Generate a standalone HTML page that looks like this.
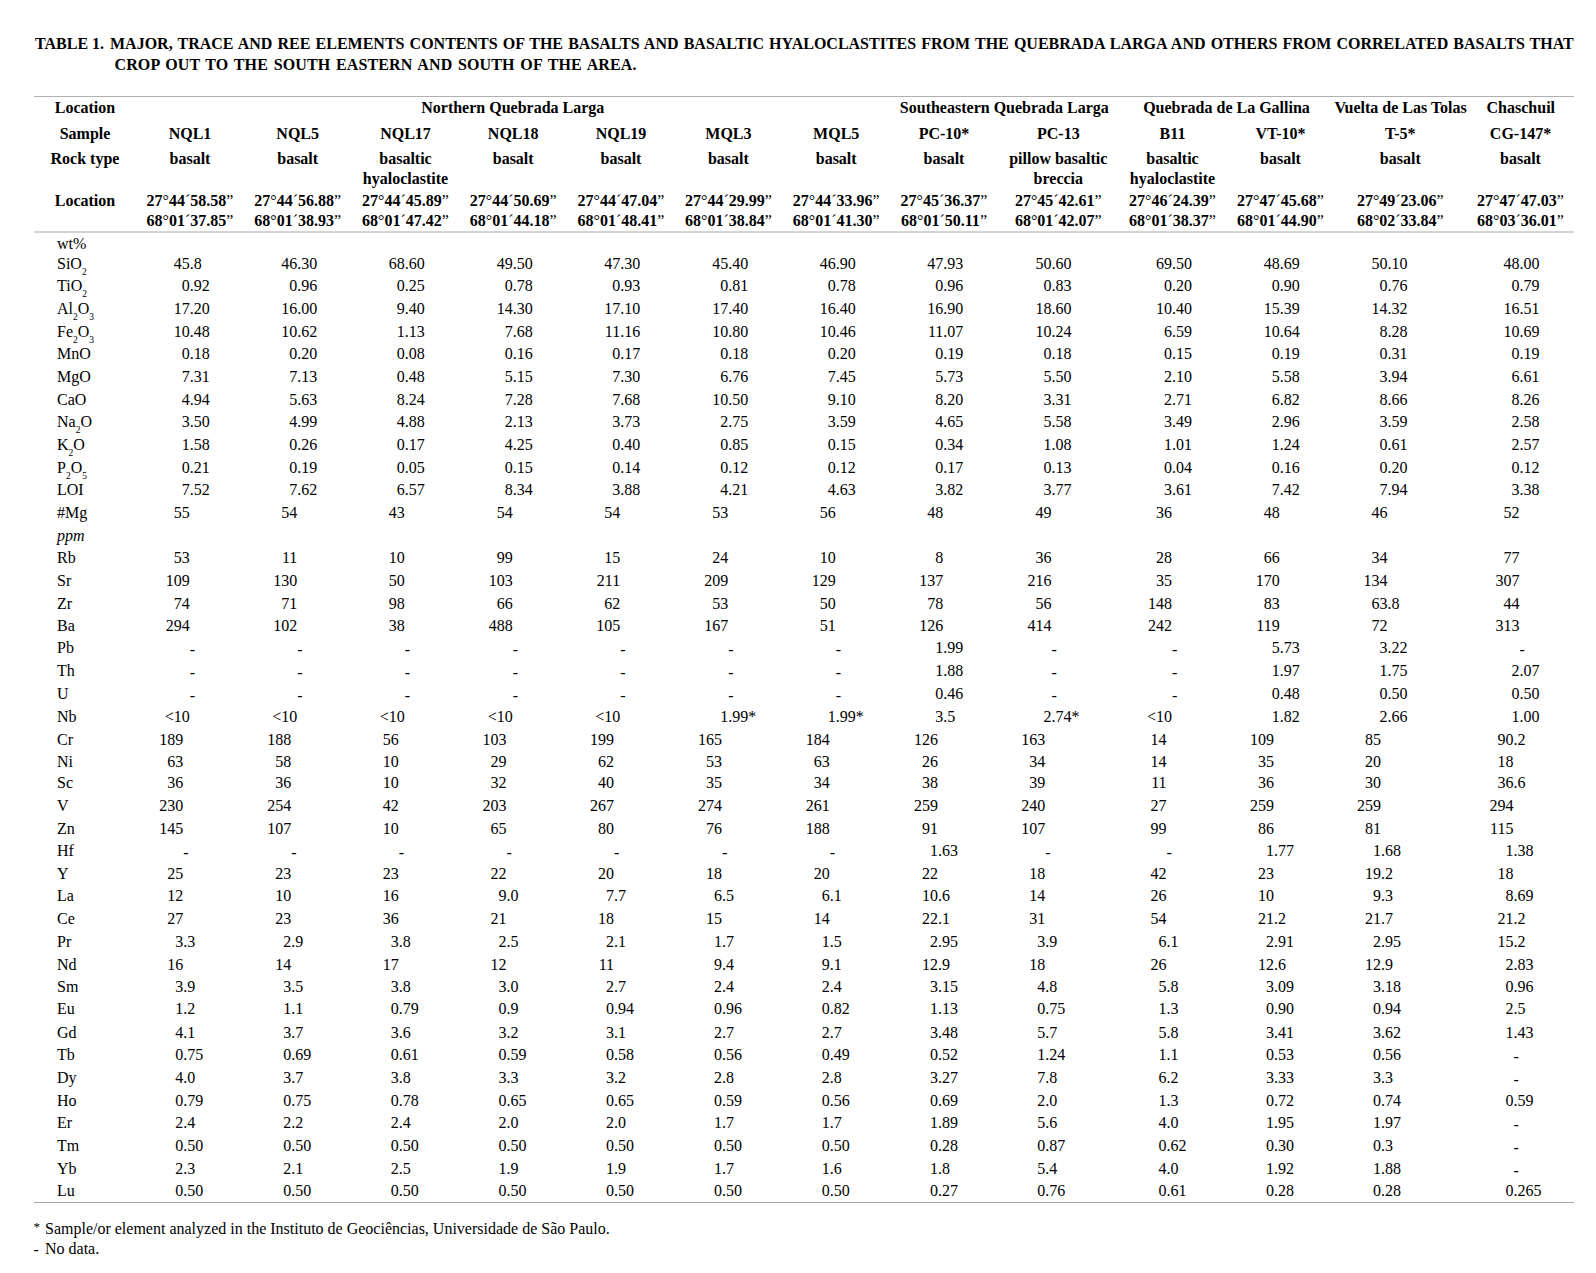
<!DOCTYPE html>
<html><head><meta charset="utf-8"><style>
html,body{margin:0;padding:0;background:#fff;}
body{width:1596px;height:1273px;position:relative;overflow:hidden;font-family:"Liberation Serif",serif;font-size:16px;color:#000;}
.t{position:absolute;white-space:pre;line-height:20px;}
.c{width:300px;text-align:center;}
.b{font-weight:bold;}
.it{font-style:italic;}
.n{font-weight:normal;}
.i{position:absolute;right:100%;top:0;}
sub{font-size:9.5px;vertical-align:baseline;position:relative;top:6px;line-height:0;}
.rule{position:absolute;left:34px;width:1540px;}
</style></head><body>
<div class="rule" style="top:96px;height:1px;background:#b0b0b0"></div>
<div class="rule" style="top:231px;height:2px;background:#d4d4d4"></div>
<div class="rule" style="top:1202px;height:1px;background:#a8a8a8"></div>
<div class="t b" style="left:35px;top:33.8px;">TABLE 1.</div>
<div class="t b" style="left:110px;top:33.8px;word-spacing:1.13px">MAJOR, TRACE AND REE ELEMENTS CONTENTS OF THE BASALTS AND BASALTIC HYALOCLASTITES FROM THE QUEBRADA LARGA AND OTHERS FROM CORRELATED BASALTS THAT</div>
<div class="t b" style="left:114.5px;top:54.5px;word-spacing:1.6px;letter-spacing:0.12px">CROP OUT TO THE SOUTH EASTERN AND SOUTH OF THE AREA.</div>
<div class="t c b" style="left:-65.0px;top:98.2px">Location</div>
<div class="t c b" style="left:-65.0px;top:123.9px">Sample</div>
<div class="t c b" style="left:-65.0px;top:148.9px">Rock type</div>
<div class="t c b" style="left:-65.0px;top:190.8px">Location</div>
<div class="t c b" style="left:362.8px;top:98.2px">Northern Quebrada Larga</div>
<div class="t c b" style="left:854.3px;top:98.2px">Southeastern Quebrada Larga</div>
<div class="t c b" style="left:1076.5px;top:98.2px">Quebrada de La Gallina</div>
<div class="t c b" style="left:1250.6px;top:98.2px">Vuelta de Las Tolas</div>
<div class="t c b" style="left:1370.8px;top:98.2px">Chaschuil</div>
<div class="t c b" style="left:40.0px;top:123.9px">NQL1</div>
<div class="t c b" style="left:40.0px;top:148.9px">basalt</div>
<div class="t c b" style="left:40.0px;top:190.8px">27<span class="n">°</span>44<span class="n">´</span>58.58<span class="n">”</span></div>
<div class="t c b" style="left:40.0px;top:210.5px">68<span class="n">°</span>01<span class="n">´</span>37.85<span class="n">”</span></div>
<div class="t c b" style="left:147.7px;top:123.9px">NQL5</div>
<div class="t c b" style="left:147.7px;top:148.9px">basalt</div>
<div class="t c b" style="left:147.7px;top:190.8px">27<span class="n">°</span>44<span class="n">´</span>56.88<span class="n">”</span></div>
<div class="t c b" style="left:147.7px;top:210.5px">68<span class="n">°</span>01<span class="n">´</span>38.93<span class="n">”</span></div>
<div class="t c b" style="left:255.5px;top:123.9px">NQL17</div>
<div class="t c b" style="left:255.5px;top:148.9px">basaltic</div>
<div class="t c b" style="left:255.5px;top:169.0px">hyaloclastite</div>
<div class="t c b" style="left:255.5px;top:190.8px">27<span class="n">°</span>44<span class="n">´</span>45.89<span class="n">”</span></div>
<div class="t c b" style="left:255.5px;top:210.5px">68<span class="n">°</span>01<span class="n">´</span>47.42<span class="n">”</span></div>
<div class="t c b" style="left:363.2px;top:123.9px">NQL18</div>
<div class="t c b" style="left:363.2px;top:148.9px">basalt</div>
<div class="t c b" style="left:363.2px;top:190.8px">27<span class="n">°</span>44<span class="n">´</span>50.69<span class="n">”</span></div>
<div class="t c b" style="left:363.2px;top:210.5px">68<span class="n">°</span>01<span class="n">´</span>44.18<span class="n">”</span></div>
<div class="t c b" style="left:471.0px;top:123.9px">NQL19</div>
<div class="t c b" style="left:471.0px;top:148.9px">basalt</div>
<div class="t c b" style="left:471.0px;top:190.8px">27<span class="n">°</span>44<span class="n">´</span>47.04<span class="n">”</span></div>
<div class="t c b" style="left:471.0px;top:210.5px">68<span class="n">°</span>01<span class="n">´</span>48.41<span class="n">”</span></div>
<div class="t c b" style="left:578.4px;top:123.9px">MQL3</div>
<div class="t c b" style="left:578.4px;top:148.9px">basalt</div>
<div class="t c b" style="left:578.4px;top:190.8px">27<span class="n">°</span>44<span class="n">´</span>29.99<span class="n">”</span></div>
<div class="t c b" style="left:578.4px;top:210.5px">68<span class="n">°</span>01<span class="n">´</span>38.84<span class="n">”</span></div>
<div class="t c b" style="left:686.2px;top:123.9px">MQL5</div>
<div class="t c b" style="left:686.2px;top:148.9px">basalt</div>
<div class="t c b" style="left:686.2px;top:190.8px">27<span class="n">°</span>44<span class="n">´</span>33.96<span class="n">”</span></div>
<div class="t c b" style="left:686.2px;top:210.5px">68<span class="n">°</span>01<span class="n">´</span>41.30<span class="n">”</span></div>
<div class="t c b" style="left:794.0px;top:123.9px">PC-10*</div>
<div class="t c b" style="left:794.0px;top:148.9px">basalt</div>
<div class="t c b" style="left:794.0px;top:190.8px">27<span class="n">°</span>45<span class="n">´</span>36.37<span class="n">”</span></div>
<div class="t c b" style="left:794.0px;top:210.5px">68<span class="n">°</span>01<span class="n">´</span>50.11<span class="n">”</span></div>
<div class="t c b" style="left:908.3px;top:123.9px">PC-13</div>
<div class="t c b" style="left:908.3px;top:148.9px">pillow basaltic</div>
<div class="t c b" style="left:908.3px;top:169.0px">breccia</div>
<div class="t c b" style="left:908.3px;top:190.8px">27<span class="n">°</span>45<span class="n">´</span>42.61<span class="n">”</span></div>
<div class="t c b" style="left:908.3px;top:210.5px">68<span class="n">°</span>01<span class="n">´</span>42.07<span class="n">”</span></div>
<div class="t c b" style="left:1022.5px;top:123.9px">B11</div>
<div class="t c b" style="left:1022.5px;top:148.9px">basaltic</div>
<div class="t c b" style="left:1022.5px;top:169.0px">hyaloclastite</div>
<div class="t c b" style="left:1022.5px;top:190.8px">27<span class="n">°</span>46<span class="n">´</span>24.39<span class="n">”</span></div>
<div class="t c b" style="left:1022.5px;top:210.5px">68<span class="n">°</span>01<span class="n">´</span>38.37<span class="n">”</span></div>
<div class="t c b" style="left:1130.5px;top:123.9px">VT-10*</div>
<div class="t c b" style="left:1130.5px;top:148.9px">basalt</div>
<div class="t c b" style="left:1130.5px;top:190.8px">27<span class="n">°</span>47<span class="n">´</span>45.68<span class="n">”</span></div>
<div class="t c b" style="left:1130.5px;top:210.5px">68<span class="n">°</span>01<span class="n">´</span>44.90<span class="n">”</span></div>
<div class="t c b" style="left:1250.3px;top:123.9px">T-5*</div>
<div class="t c b" style="left:1250.3px;top:148.9px">basalt</div>
<div class="t c b" style="left:1250.3px;top:190.8px">27<span class="n">°</span>49<span class="n">´</span>23.06<span class="n">”</span></div>
<div class="t c b" style="left:1250.3px;top:210.5px">68<span class="n">°</span>02<span class="n">´</span>33.84<span class="n">”</span></div>
<div class="t c b" style="left:1370.5px;top:123.9px">CG-147*</div>
<div class="t c b" style="left:1370.5px;top:148.9px">basalt</div>
<div class="t c b" style="left:1370.5px;top:190.8px">27<span class="n">°</span>47<span class="n">´</span>47.03<span class="n">”</span></div>
<div class="t c b" style="left:1370.5px;top:210.5px">68<span class="n">°</span>03<span class="n">´</span>36.01<span class="n">”</span></div>
<div class="t " style="left:57px;top:233.8px;">wt%</div>
<div class="t " style="left:57px;top:254.0px;">SiO<sub>2</sub></div>
<div class="t" style="left:189.7px;top:254.0px"><span class="i">45</span>.8</div>
<div class="t" style="left:297.3px;top:254.0px"><span class="i">46</span>.30</div>
<div class="t" style="left:404.8px;top:254.0px"><span class="i">68</span>.60</div>
<div class="t" style="left:512.7px;top:254.0px"><span class="i">49</span>.50</div>
<div class="t" style="left:620.2px;top:254.0px"><span class="i">47</span>.30</div>
<div class="t" style="left:728.2px;top:254.0px"><span class="i">45</span>.40</div>
<div class="t" style="left:835.8px;top:254.0px"><span class="i">46</span>.90</div>
<div class="t" style="left:943.3px;top:254.0px"><span class="i">47</span>.93</div>
<div class="t" style="left:1051.5px;top:254.0px"><span class="i">50</span>.60</div>
<div class="t" style="left:1172.0px;top:254.0px"><span class="i">69</span>.50</div>
<div class="t" style="left:1279.7px;top:254.0px"><span class="i">48</span>.69</div>
<div class="t" style="left:1387.4px;top:254.0px"><span class="i">50</span>.10</div>
<div class="t" style="left:1519.4px;top:254.0px"><span class="i">48</span>.00</div>
<div class="t " style="left:57px;top:276.0px;">TiO<sub>2</sub></div>
<div class="t" style="left:189.7px;top:276.0px"><span class="i">0</span>.92</div>
<div class="t" style="left:297.3px;top:276.0px"><span class="i">0</span>.96</div>
<div class="t" style="left:404.8px;top:276.0px"><span class="i">0</span>.25</div>
<div class="t" style="left:512.7px;top:276.0px"><span class="i">0</span>.78</div>
<div class="t" style="left:620.2px;top:276.0px"><span class="i">0</span>.93</div>
<div class="t" style="left:728.2px;top:276.0px"><span class="i">0</span>.81</div>
<div class="t" style="left:835.8px;top:276.0px"><span class="i">0</span>.78</div>
<div class="t" style="left:943.3px;top:276.0px"><span class="i">0</span>.96</div>
<div class="t" style="left:1051.5px;top:276.0px"><span class="i">0</span>.83</div>
<div class="t" style="left:1172.0px;top:276.0px"><span class="i">0</span>.20</div>
<div class="t" style="left:1279.7px;top:276.0px"><span class="i">0</span>.90</div>
<div class="t" style="left:1387.4px;top:276.0px"><span class="i">0</span>.76</div>
<div class="t" style="left:1519.4px;top:276.0px"><span class="i">0</span>.79</div>
<div class="t " style="left:57px;top:299.0px;">Al<sub>2</sub>O<sub>3</sub></div>
<div class="t" style="left:189.7px;top:299.0px"><span class="i">17</span>.20</div>
<div class="t" style="left:297.3px;top:299.0px"><span class="i">16</span>.00</div>
<div class="t" style="left:404.8px;top:299.0px"><span class="i">9</span>.40</div>
<div class="t" style="left:512.7px;top:299.0px"><span class="i">14</span>.30</div>
<div class="t" style="left:620.2px;top:299.0px"><span class="i">17</span>.10</div>
<div class="t" style="left:728.2px;top:299.0px"><span class="i">17</span>.40</div>
<div class="t" style="left:835.8px;top:299.0px"><span class="i">16</span>.40</div>
<div class="t" style="left:943.3px;top:299.0px"><span class="i">16</span>.90</div>
<div class="t" style="left:1051.5px;top:299.0px"><span class="i">18</span>.60</div>
<div class="t" style="left:1172.0px;top:299.0px"><span class="i">10</span>.40</div>
<div class="t" style="left:1279.7px;top:299.0px"><span class="i">15</span>.39</div>
<div class="t" style="left:1387.4px;top:299.0px"><span class="i">14</span>.32</div>
<div class="t" style="left:1519.4px;top:299.0px"><span class="i">16</span>.51</div>
<div class="t " style="left:57px;top:322.0px;">Fe<sub>2</sub>O<sub>3</sub></div>
<div class="t" style="left:189.7px;top:322.0px"><span class="i">10</span>.48</div>
<div class="t" style="left:297.3px;top:322.0px"><span class="i">10</span>.62</div>
<div class="t" style="left:404.8px;top:322.0px"><span class="i">1</span>.13</div>
<div class="t" style="left:512.7px;top:322.0px"><span class="i">7</span>.68</div>
<div class="t" style="left:620.2px;top:322.0px"><span class="i">11</span>.16</div>
<div class="t" style="left:728.2px;top:322.0px"><span class="i">10</span>.80</div>
<div class="t" style="left:835.8px;top:322.0px"><span class="i">10</span>.46</div>
<div class="t" style="left:943.3px;top:322.0px"><span class="i">11</span>.07</div>
<div class="t" style="left:1051.5px;top:322.0px"><span class="i">10</span>.24</div>
<div class="t" style="left:1172.0px;top:322.0px"><span class="i">6</span>.59</div>
<div class="t" style="left:1279.7px;top:322.0px"><span class="i">10</span>.64</div>
<div class="t" style="left:1387.4px;top:322.0px"><span class="i">8</span>.28</div>
<div class="t" style="left:1519.4px;top:322.0px"><span class="i">10</span>.69</div>
<div class="t " style="left:57px;top:344.0px;">MnO</div>
<div class="t" style="left:189.7px;top:344.0px"><span class="i">0</span>.18</div>
<div class="t" style="left:297.3px;top:344.0px"><span class="i">0</span>.20</div>
<div class="t" style="left:404.8px;top:344.0px"><span class="i">0</span>.08</div>
<div class="t" style="left:512.7px;top:344.0px"><span class="i">0</span>.16</div>
<div class="t" style="left:620.2px;top:344.0px"><span class="i">0</span>.17</div>
<div class="t" style="left:728.2px;top:344.0px"><span class="i">0</span>.18</div>
<div class="t" style="left:835.8px;top:344.0px"><span class="i">0</span>.20</div>
<div class="t" style="left:943.3px;top:344.0px"><span class="i">0</span>.19</div>
<div class="t" style="left:1051.5px;top:344.0px"><span class="i">0</span>.18</div>
<div class="t" style="left:1172.0px;top:344.0px"><span class="i">0</span>.15</div>
<div class="t" style="left:1279.7px;top:344.0px"><span class="i">0</span>.19</div>
<div class="t" style="left:1387.4px;top:344.0px"><span class="i">0</span>.31</div>
<div class="t" style="left:1519.4px;top:344.0px"><span class="i">0</span>.19</div>
<div class="t " style="left:57px;top:367.0px;">MgO</div>
<div class="t" style="left:189.7px;top:367.0px"><span class="i">7</span>.31</div>
<div class="t" style="left:297.3px;top:367.0px"><span class="i">7</span>.13</div>
<div class="t" style="left:404.8px;top:367.0px"><span class="i">0</span>.48</div>
<div class="t" style="left:512.7px;top:367.0px"><span class="i">5</span>.15</div>
<div class="t" style="left:620.2px;top:367.0px"><span class="i">7</span>.30</div>
<div class="t" style="left:728.2px;top:367.0px"><span class="i">6</span>.76</div>
<div class="t" style="left:835.8px;top:367.0px"><span class="i">7</span>.45</div>
<div class="t" style="left:943.3px;top:367.0px"><span class="i">5</span>.73</div>
<div class="t" style="left:1051.5px;top:367.0px"><span class="i">5</span>.50</div>
<div class="t" style="left:1172.0px;top:367.0px"><span class="i">2</span>.10</div>
<div class="t" style="left:1279.7px;top:367.0px"><span class="i">5</span>.58</div>
<div class="t" style="left:1387.4px;top:367.0px"><span class="i">3</span>.94</div>
<div class="t" style="left:1519.4px;top:367.0px"><span class="i">6</span>.61</div>
<div class="t " style="left:57px;top:390.0px;">CaO</div>
<div class="t" style="left:189.7px;top:390.0px"><span class="i">4</span>.94</div>
<div class="t" style="left:297.3px;top:390.0px"><span class="i">5</span>.63</div>
<div class="t" style="left:404.8px;top:390.0px"><span class="i">8</span>.24</div>
<div class="t" style="left:512.7px;top:390.0px"><span class="i">7</span>.28</div>
<div class="t" style="left:620.2px;top:390.0px"><span class="i">7</span>.68</div>
<div class="t" style="left:728.2px;top:390.0px"><span class="i">10</span>.50</div>
<div class="t" style="left:835.8px;top:390.0px"><span class="i">9</span>.10</div>
<div class="t" style="left:943.3px;top:390.0px"><span class="i">8</span>.20</div>
<div class="t" style="left:1051.5px;top:390.0px"><span class="i">3</span>.31</div>
<div class="t" style="left:1172.0px;top:390.0px"><span class="i">2</span>.71</div>
<div class="t" style="left:1279.7px;top:390.0px"><span class="i">6</span>.82</div>
<div class="t" style="left:1387.4px;top:390.0px"><span class="i">8</span>.66</div>
<div class="t" style="left:1519.4px;top:390.0px"><span class="i">8</span>.26</div>
<div class="t " style="left:57px;top:412.0px;">Na<sub>2</sub>O</div>
<div class="t" style="left:189.7px;top:412.0px"><span class="i">3</span>.50</div>
<div class="t" style="left:297.3px;top:412.0px"><span class="i">4</span>.99</div>
<div class="t" style="left:404.8px;top:412.0px"><span class="i">4</span>.88</div>
<div class="t" style="left:512.7px;top:412.0px"><span class="i">2</span>.13</div>
<div class="t" style="left:620.2px;top:412.0px"><span class="i">3</span>.73</div>
<div class="t" style="left:728.2px;top:412.0px"><span class="i">2</span>.75</div>
<div class="t" style="left:835.8px;top:412.0px"><span class="i">3</span>.59</div>
<div class="t" style="left:943.3px;top:412.0px"><span class="i">4</span>.65</div>
<div class="t" style="left:1051.5px;top:412.0px"><span class="i">5</span>.58</div>
<div class="t" style="left:1172.0px;top:412.0px"><span class="i">3</span>.49</div>
<div class="t" style="left:1279.7px;top:412.0px"><span class="i">2</span>.96</div>
<div class="t" style="left:1387.4px;top:412.0px"><span class="i">3</span>.59</div>
<div class="t" style="left:1519.4px;top:412.0px"><span class="i">2</span>.58</div>
<div class="t " style="left:57px;top:435.0px;">K<sub>2</sub>O</div>
<div class="t" style="left:189.7px;top:435.0px"><span class="i">1</span>.58</div>
<div class="t" style="left:297.3px;top:435.0px"><span class="i">0</span>.26</div>
<div class="t" style="left:404.8px;top:435.0px"><span class="i">0</span>.17</div>
<div class="t" style="left:512.7px;top:435.0px"><span class="i">4</span>.25</div>
<div class="t" style="left:620.2px;top:435.0px"><span class="i">0</span>.40</div>
<div class="t" style="left:728.2px;top:435.0px"><span class="i">0</span>.85</div>
<div class="t" style="left:835.8px;top:435.0px"><span class="i">0</span>.15</div>
<div class="t" style="left:943.3px;top:435.0px"><span class="i">0</span>.34</div>
<div class="t" style="left:1051.5px;top:435.0px"><span class="i">1</span>.08</div>
<div class="t" style="left:1172.0px;top:435.0px"><span class="i">1</span>.01</div>
<div class="t" style="left:1279.7px;top:435.0px"><span class="i">1</span>.24</div>
<div class="t" style="left:1387.4px;top:435.0px"><span class="i">0</span>.61</div>
<div class="t" style="left:1519.4px;top:435.0px"><span class="i">2</span>.57</div>
<div class="t " style="left:57px;top:458.0px;">P<sub>2</sub>O<sub>5</sub></div>
<div class="t" style="left:189.7px;top:458.0px"><span class="i">0</span>.21</div>
<div class="t" style="left:297.3px;top:458.0px"><span class="i">0</span>.19</div>
<div class="t" style="left:404.8px;top:458.0px"><span class="i">0</span>.05</div>
<div class="t" style="left:512.7px;top:458.0px"><span class="i">0</span>.15</div>
<div class="t" style="left:620.2px;top:458.0px"><span class="i">0</span>.14</div>
<div class="t" style="left:728.2px;top:458.0px"><span class="i">0</span>.12</div>
<div class="t" style="left:835.8px;top:458.0px"><span class="i">0</span>.12</div>
<div class="t" style="left:943.3px;top:458.0px"><span class="i">0</span>.17</div>
<div class="t" style="left:1051.5px;top:458.0px"><span class="i">0</span>.13</div>
<div class="t" style="left:1172.0px;top:458.0px"><span class="i">0</span>.04</div>
<div class="t" style="left:1279.7px;top:458.0px"><span class="i">0</span>.16</div>
<div class="t" style="left:1387.4px;top:458.0px"><span class="i">0</span>.20</div>
<div class="t" style="left:1519.4px;top:458.0px"><span class="i">0</span>.12</div>
<div class="t " style="left:57px;top:480.0px;">LOI</div>
<div class="t" style="left:189.7px;top:480.0px"><span class="i">7</span>.52</div>
<div class="t" style="left:297.3px;top:480.0px"><span class="i">7</span>.62</div>
<div class="t" style="left:404.8px;top:480.0px"><span class="i">6</span>.57</div>
<div class="t" style="left:512.7px;top:480.0px"><span class="i">8</span>.34</div>
<div class="t" style="left:620.2px;top:480.0px"><span class="i">3</span>.88</div>
<div class="t" style="left:728.2px;top:480.0px"><span class="i">4</span>.21</div>
<div class="t" style="left:835.8px;top:480.0px"><span class="i">4</span>.63</div>
<div class="t" style="left:943.3px;top:480.0px"><span class="i">3</span>.82</div>
<div class="t" style="left:1051.5px;top:480.0px"><span class="i">3</span>.77</div>
<div class="t" style="left:1172.0px;top:480.0px"><span class="i">3</span>.61</div>
<div class="t" style="left:1279.7px;top:480.0px"><span class="i">7</span>.42</div>
<div class="t" style="left:1387.4px;top:480.0px"><span class="i">7</span>.94</div>
<div class="t" style="left:1519.4px;top:480.0px"><span class="i">3</span>.38</div>
<div class="t " style="left:57px;top:503.0px;">#Mg</div>
<div class="t" style="left:189.7px;top:503.0px"><span class="i">55</span></div>
<div class="t" style="left:297.3px;top:503.0px"><span class="i">54</span></div>
<div class="t" style="left:404.8px;top:503.0px"><span class="i">43</span></div>
<div class="t" style="left:512.7px;top:503.0px"><span class="i">54</span></div>
<div class="t" style="left:620.2px;top:503.0px"><span class="i">54</span></div>
<div class="t" style="left:728.2px;top:503.0px"><span class="i">53</span></div>
<div class="t" style="left:835.8px;top:503.0px"><span class="i">56</span></div>
<div class="t" style="left:943.3px;top:503.0px"><span class="i">48</span></div>
<div class="t" style="left:1051.5px;top:503.0px"><span class="i">49</span></div>
<div class="t" style="left:1172.0px;top:503.0px"><span class="i">36</span></div>
<div class="t" style="left:1279.7px;top:503.0px"><span class="i">48</span></div>
<div class="t" style="left:1387.4px;top:503.0px"><span class="i">46</span></div>
<div class="t" style="left:1519.4px;top:503.0px"><span class="i">52</span></div>
<div class="t it" style="left:57px;top:526.0px;">ppm</div>
<div class="t " style="left:57px;top:548.0px;">Rb</div>
<div class="t" style="left:189.7px;top:548.0px"><span class="i">53</span></div>
<div class="t" style="left:297.3px;top:548.0px"><span class="i">11</span></div>
<div class="t" style="left:404.8px;top:548.0px"><span class="i">10</span></div>
<div class="t" style="left:512.7px;top:548.0px"><span class="i">99</span></div>
<div class="t" style="left:620.2px;top:548.0px"><span class="i">15</span></div>
<div class="t" style="left:728.2px;top:548.0px"><span class="i">24</span></div>
<div class="t" style="left:835.8px;top:548.0px"><span class="i">10</span></div>
<div class="t" style="left:943.3px;top:548.0px"><span class="i">8</span></div>
<div class="t" style="left:1051.5px;top:548.0px"><span class="i">36</span></div>
<div class="t" style="left:1172.0px;top:548.0px"><span class="i">28</span></div>
<div class="t" style="left:1279.7px;top:548.0px"><span class="i">66</span></div>
<div class="t" style="left:1387.4px;top:548.0px"><span class="i">34</span></div>
<div class="t" style="left:1519.4px;top:548.0px"><span class="i">77</span></div>
<div class="t " style="left:57px;top:571.0px;">Sr</div>
<div class="t" style="left:189.7px;top:571.0px"><span class="i">109</span></div>
<div class="t" style="left:297.3px;top:571.0px"><span class="i">130</span></div>
<div class="t" style="left:404.8px;top:571.0px"><span class="i">50</span></div>
<div class="t" style="left:512.7px;top:571.0px"><span class="i">103</span></div>
<div class="t" style="left:620.2px;top:571.0px"><span class="i">211</span></div>
<div class="t" style="left:728.2px;top:571.0px"><span class="i">209</span></div>
<div class="t" style="left:835.8px;top:571.0px"><span class="i">129</span></div>
<div class="t" style="left:943.3px;top:571.0px"><span class="i">137</span></div>
<div class="t" style="left:1051.5px;top:571.0px"><span class="i">216</span></div>
<div class="t" style="left:1172.0px;top:571.0px"><span class="i">35</span></div>
<div class="t" style="left:1279.7px;top:571.0px"><span class="i">170</span></div>
<div class="t" style="left:1387.4px;top:571.0px"><span class="i">134</span></div>
<div class="t" style="left:1519.4px;top:571.0px"><span class="i">307</span></div>
<div class="t " style="left:57px;top:594.0px;">Zr</div>
<div class="t" style="left:189.7px;top:594.0px"><span class="i">74</span></div>
<div class="t" style="left:297.3px;top:594.0px"><span class="i">71</span></div>
<div class="t" style="left:404.8px;top:594.0px"><span class="i">98</span></div>
<div class="t" style="left:512.7px;top:594.0px"><span class="i">66</span></div>
<div class="t" style="left:620.2px;top:594.0px"><span class="i">62</span></div>
<div class="t" style="left:728.2px;top:594.0px"><span class="i">53</span></div>
<div class="t" style="left:835.8px;top:594.0px"><span class="i">50</span></div>
<div class="t" style="left:943.3px;top:594.0px"><span class="i">78</span></div>
<div class="t" style="left:1051.5px;top:594.0px"><span class="i">56</span></div>
<div class="t" style="left:1172.0px;top:594.0px"><span class="i">148</span></div>
<div class="t" style="left:1279.7px;top:594.0px"><span class="i">83</span></div>
<div class="t" style="left:1387.4px;top:594.0px"><span class="i">63</span>.8</div>
<div class="t" style="left:1519.4px;top:594.0px"><span class="i">44</span></div>
<div class="t " style="left:57px;top:616.0px;">Ba</div>
<div class="t" style="left:189.7px;top:616.0px"><span class="i">294</span></div>
<div class="t" style="left:297.3px;top:616.0px"><span class="i">102</span></div>
<div class="t" style="left:404.8px;top:616.0px"><span class="i">38</span></div>
<div class="t" style="left:512.7px;top:616.0px"><span class="i">488</span></div>
<div class="t" style="left:620.2px;top:616.0px"><span class="i">105</span></div>
<div class="t" style="left:728.2px;top:616.0px"><span class="i">167</span></div>
<div class="t" style="left:835.8px;top:616.0px"><span class="i">51</span></div>
<div class="t" style="left:943.3px;top:616.0px"><span class="i">126</span></div>
<div class="t" style="left:1051.5px;top:616.0px"><span class="i">414</span></div>
<div class="t" style="left:1172.0px;top:616.0px"><span class="i">242</span></div>
<div class="t" style="left:1279.7px;top:616.0px"><span class="i">119</span></div>
<div class="t" style="left:1387.4px;top:616.0px"><span class="i">72</span></div>
<div class="t" style="left:1519.4px;top:616.0px"><span class="i">313</span></div>
<div class="t " style="left:57px;top:638.0px;">Pb</div>
<div class="t" style="left:189.7px;top:639.6px">-</div>
<div class="t" style="left:297.3px;top:639.6px">-</div>
<div class="t" style="left:404.8px;top:639.6px">-</div>
<div class="t" style="left:512.7px;top:639.6px">-</div>
<div class="t" style="left:620.2px;top:639.6px">-</div>
<div class="t" style="left:728.2px;top:639.6px">-</div>
<div class="t" style="left:835.8px;top:639.6px">-</div>
<div class="t" style="left:943.3px;top:638.0px"><span class="i">1</span>.99</div>
<div class="t" style="left:1051.5px;top:639.6px">-</div>
<div class="t" style="left:1172.0px;top:639.6px">-</div>
<div class="t" style="left:1279.7px;top:638.0px"><span class="i">5</span>.73</div>
<div class="t" style="left:1387.4px;top:638.0px"><span class="i">3</span>.22</div>
<div class="t" style="left:1519.4px;top:639.6px">-</div>
<div class="t " style="left:57px;top:661.0px;">Th</div>
<div class="t" style="left:189.7px;top:662.6px">-</div>
<div class="t" style="left:297.3px;top:662.6px">-</div>
<div class="t" style="left:404.8px;top:662.6px">-</div>
<div class="t" style="left:512.7px;top:662.6px">-</div>
<div class="t" style="left:620.2px;top:662.6px">-</div>
<div class="t" style="left:728.2px;top:662.6px">-</div>
<div class="t" style="left:835.8px;top:662.6px">-</div>
<div class="t" style="left:943.3px;top:661.0px"><span class="i">1</span>.88</div>
<div class="t" style="left:1051.5px;top:662.6px">-</div>
<div class="t" style="left:1172.0px;top:662.6px">-</div>
<div class="t" style="left:1279.7px;top:661.0px"><span class="i">1</span>.97</div>
<div class="t" style="left:1387.4px;top:661.0px"><span class="i">1</span>.75</div>
<div class="t" style="left:1519.4px;top:661.0px"><span class="i">2</span>.07</div>
<div class="t " style="left:57px;top:684.0px;">U</div>
<div class="t" style="left:189.7px;top:685.6px">-</div>
<div class="t" style="left:297.3px;top:685.6px">-</div>
<div class="t" style="left:404.8px;top:685.6px">-</div>
<div class="t" style="left:512.7px;top:685.6px">-</div>
<div class="t" style="left:620.2px;top:685.6px">-</div>
<div class="t" style="left:728.2px;top:685.6px">-</div>
<div class="t" style="left:835.8px;top:685.6px">-</div>
<div class="t" style="left:943.3px;top:684.0px"><span class="i">0</span>.46</div>
<div class="t" style="left:1051.5px;top:685.6px">-</div>
<div class="t" style="left:1172.0px;top:685.6px">-</div>
<div class="t" style="left:1279.7px;top:684.0px"><span class="i">0</span>.48</div>
<div class="t" style="left:1387.4px;top:684.0px"><span class="i">0</span>.50</div>
<div class="t" style="left:1519.4px;top:684.0px"><span class="i">0</span>.50</div>
<div class="t " style="left:57px;top:707.0px;">Nb</div>
<div class="t" style="left:189.7px;top:707.0px"><span class="i">&lt;10</span></div>
<div class="t" style="left:297.3px;top:707.0px"><span class="i">&lt;10</span></div>
<div class="t" style="left:404.8px;top:707.0px"><span class="i">&lt;10</span></div>
<div class="t" style="left:512.7px;top:707.0px"><span class="i">&lt;10</span></div>
<div class="t" style="left:620.2px;top:707.0px"><span class="i">&lt;10</span></div>
<div class="t" style="left:728.2px;top:707.0px"><span class="i">1</span>.99*</div>
<div class="t" style="left:835.8px;top:707.0px"><span class="i">1</span>.99*</div>
<div class="t" style="left:943.3px;top:707.0px"><span class="i">3</span>.5</div>
<div class="t" style="left:1051.5px;top:707.0px"><span class="i">2</span>.74*</div>
<div class="t" style="left:1172.0px;top:707.0px"><span class="i">&lt;10</span></div>
<div class="t" style="left:1279.7px;top:707.0px"><span class="i">1</span>.82</div>
<div class="t" style="left:1387.4px;top:707.0px"><span class="i">2</span>.66</div>
<div class="t" style="left:1519.4px;top:707.0px"><span class="i">1</span>.00</div>
<div class="t " style="left:57px;top:730.0px;">Cr</div>
<div class="t" style="left:183.3px;top:730.0px"><span class="i">189</span></div>
<div class="t" style="left:291.3px;top:730.0px"><span class="i">188</span></div>
<div class="t" style="left:398.7px;top:730.0px"><span class="i">56</span></div>
<div class="t" style="left:506.5px;top:730.0px"><span class="i">103</span></div>
<div class="t" style="left:614.1px;top:730.0px"><span class="i">199</span></div>
<div class="t" style="left:722.0px;top:730.0px"><span class="i">165</span></div>
<div class="t" style="left:829.8px;top:730.0px"><span class="i">184</span></div>
<div class="t" style="left:937.9px;top:730.0px"><span class="i">126</span></div>
<div class="t" style="left:1045.2px;top:730.0px"><span class="i">163</span></div>
<div class="t" style="left:1166.6px;top:730.0px"><span class="i">14</span></div>
<div class="t" style="left:1274.0px;top:730.0px"><span class="i">109</span></div>
<div class="t" style="left:1381.0px;top:730.0px"><span class="i">85</span></div>
<div class="t" style="left:1513.4px;top:730.0px"><span class="i">90</span>.2</div>
<div class="t " style="left:57px;top:752.0px;">Ni</div>
<div class="t" style="left:183.3px;top:752.0px"><span class="i">63</span></div>
<div class="t" style="left:291.3px;top:752.0px"><span class="i">58</span></div>
<div class="t" style="left:398.7px;top:752.0px"><span class="i">10</span></div>
<div class="t" style="left:506.5px;top:752.0px"><span class="i">29</span></div>
<div class="t" style="left:614.1px;top:752.0px"><span class="i">62</span></div>
<div class="t" style="left:722.0px;top:752.0px"><span class="i">53</span></div>
<div class="t" style="left:829.8px;top:752.0px"><span class="i">63</span></div>
<div class="t" style="left:937.9px;top:752.0px"><span class="i">26</span></div>
<div class="t" style="left:1045.2px;top:752.0px"><span class="i">34</span></div>
<div class="t" style="left:1166.6px;top:752.0px"><span class="i">14</span></div>
<div class="t" style="left:1274.0px;top:752.0px"><span class="i">35</span></div>
<div class="t" style="left:1381.0px;top:752.0px"><span class="i">20</span></div>
<div class="t" style="left:1513.4px;top:752.0px"><span class="i">18</span></div>
<div class="t " style="left:57px;top:773.0px;">Sc</div>
<div class="t" style="left:183.3px;top:773.0px"><span class="i">36</span></div>
<div class="t" style="left:291.3px;top:773.0px"><span class="i">36</span></div>
<div class="t" style="left:398.7px;top:773.0px"><span class="i">10</span></div>
<div class="t" style="left:506.5px;top:773.0px"><span class="i">32</span></div>
<div class="t" style="left:614.1px;top:773.0px"><span class="i">40</span></div>
<div class="t" style="left:722.0px;top:773.0px"><span class="i">35</span></div>
<div class="t" style="left:829.8px;top:773.0px"><span class="i">34</span></div>
<div class="t" style="left:937.9px;top:773.0px"><span class="i">38</span></div>
<div class="t" style="left:1045.2px;top:773.0px"><span class="i">39</span></div>
<div class="t" style="left:1166.6px;top:773.0px"><span class="i">11</span></div>
<div class="t" style="left:1274.0px;top:773.0px"><span class="i">36</span></div>
<div class="t" style="left:1381.0px;top:773.0px"><span class="i">30</span></div>
<div class="t" style="left:1513.4px;top:773.0px"><span class="i">36</span>.6</div>
<div class="t " style="left:57px;top:796.0px;">V</div>
<div class="t" style="left:183.3px;top:796.0px"><span class="i">230</span></div>
<div class="t" style="left:291.3px;top:796.0px"><span class="i">254</span></div>
<div class="t" style="left:398.7px;top:796.0px"><span class="i">42</span></div>
<div class="t" style="left:506.5px;top:796.0px"><span class="i">203</span></div>
<div class="t" style="left:614.1px;top:796.0px"><span class="i">267</span></div>
<div class="t" style="left:722.0px;top:796.0px"><span class="i">274</span></div>
<div class="t" style="left:829.8px;top:796.0px"><span class="i">261</span></div>
<div class="t" style="left:937.9px;top:796.0px"><span class="i">259</span></div>
<div class="t" style="left:1045.2px;top:796.0px"><span class="i">240</span></div>
<div class="t" style="left:1166.6px;top:796.0px"><span class="i">27</span></div>
<div class="t" style="left:1274.0px;top:796.0px"><span class="i">259</span></div>
<div class="t" style="left:1381.0px;top:796.0px"><span class="i">259</span></div>
<div class="t" style="left:1513.4px;top:796.0px"><span class="i">294</span></div>
<div class="t " style="left:57px;top:819.0px;">Zn</div>
<div class="t" style="left:183.3px;top:819.0px"><span class="i">145</span></div>
<div class="t" style="left:291.3px;top:819.0px"><span class="i">107</span></div>
<div class="t" style="left:398.7px;top:819.0px"><span class="i">10</span></div>
<div class="t" style="left:506.5px;top:819.0px"><span class="i">65</span></div>
<div class="t" style="left:614.1px;top:819.0px"><span class="i">80</span></div>
<div class="t" style="left:722.0px;top:819.0px"><span class="i">76</span></div>
<div class="t" style="left:829.8px;top:819.0px"><span class="i">188</span></div>
<div class="t" style="left:937.9px;top:819.0px"><span class="i">91</span></div>
<div class="t" style="left:1045.2px;top:819.0px"><span class="i">107</span></div>
<div class="t" style="left:1166.6px;top:819.0px"><span class="i">99</span></div>
<div class="t" style="left:1274.0px;top:819.0px"><span class="i">86</span></div>
<div class="t" style="left:1381.0px;top:819.0px"><span class="i">81</span></div>
<div class="t" style="left:1513.4px;top:819.0px"><span class="i">115</span></div>
<div class="t " style="left:57px;top:841.0px;">Hf</div>
<div class="t" style="left:183.3px;top:842.6px">-</div>
<div class="t" style="left:291.3px;top:842.6px">-</div>
<div class="t" style="left:398.7px;top:842.6px">-</div>
<div class="t" style="left:506.5px;top:842.6px">-</div>
<div class="t" style="left:614.1px;top:842.6px">-</div>
<div class="t" style="left:722.0px;top:842.6px">-</div>
<div class="t" style="left:829.8px;top:842.6px">-</div>
<div class="t" style="left:937.9px;top:841.0px"><span class="i">1</span>.63</div>
<div class="t" style="left:1045.2px;top:842.6px">-</div>
<div class="t" style="left:1166.6px;top:842.6px">-</div>
<div class="t" style="left:1274.0px;top:841.0px"><span class="i">1</span>.77</div>
<div class="t" style="left:1381.0px;top:841.0px"><span class="i">1</span>.68</div>
<div class="t" style="left:1513.4px;top:841.0px"><span class="i">1</span>.38</div>
<div class="t " style="left:57px;top:864.0px;">Y</div>
<div class="t" style="left:183.3px;top:864.0px"><span class="i">25</span></div>
<div class="t" style="left:291.3px;top:864.0px"><span class="i">23</span></div>
<div class="t" style="left:398.7px;top:864.0px"><span class="i">23</span></div>
<div class="t" style="left:506.5px;top:864.0px"><span class="i">22</span></div>
<div class="t" style="left:614.1px;top:864.0px"><span class="i">20</span></div>
<div class="t" style="left:722.0px;top:864.0px"><span class="i">18</span></div>
<div class="t" style="left:829.8px;top:864.0px"><span class="i">20</span></div>
<div class="t" style="left:937.9px;top:864.0px"><span class="i">22</span></div>
<div class="t" style="left:1045.2px;top:864.0px"><span class="i">18</span></div>
<div class="t" style="left:1166.6px;top:864.0px"><span class="i">42</span></div>
<div class="t" style="left:1274.0px;top:864.0px"><span class="i">23</span></div>
<div class="t" style="left:1381.0px;top:864.0px"><span class="i">19</span>.2</div>
<div class="t" style="left:1513.4px;top:864.0px"><span class="i">18</span></div>
<div class="t " style="left:57px;top:886.0px;">La</div>
<div class="t" style="left:183.3px;top:886.0px"><span class="i">12</span></div>
<div class="t" style="left:291.3px;top:886.0px"><span class="i">10</span></div>
<div class="t" style="left:398.7px;top:886.0px"><span class="i">16</span></div>
<div class="t" style="left:506.5px;top:886.0px"><span class="i">9</span>.0</div>
<div class="t" style="left:614.1px;top:886.0px"><span class="i">7</span>.7</div>
<div class="t" style="left:722.0px;top:886.0px"><span class="i">6</span>.5</div>
<div class="t" style="left:829.8px;top:886.0px"><span class="i">6</span>.1</div>
<div class="t" style="left:937.9px;top:886.0px"><span class="i">10</span>.6</div>
<div class="t" style="left:1045.2px;top:886.0px"><span class="i">14</span></div>
<div class="t" style="left:1166.6px;top:886.0px"><span class="i">26</span></div>
<div class="t" style="left:1274.0px;top:886.0px"><span class="i">10</span></div>
<div class="t" style="left:1381.0px;top:886.0px"><span class="i">9</span>.3</div>
<div class="t" style="left:1513.4px;top:886.0px"><span class="i">8</span>.69</div>
<div class="t " style="left:57px;top:909.0px;">Ce</div>
<div class="t" style="left:183.3px;top:909.0px"><span class="i">27</span></div>
<div class="t" style="left:291.3px;top:909.0px"><span class="i">23</span></div>
<div class="t" style="left:398.7px;top:909.0px"><span class="i">36</span></div>
<div class="t" style="left:506.5px;top:909.0px"><span class="i">21</span></div>
<div class="t" style="left:614.1px;top:909.0px"><span class="i">18</span></div>
<div class="t" style="left:722.0px;top:909.0px"><span class="i">15</span></div>
<div class="t" style="left:829.8px;top:909.0px"><span class="i">14</span></div>
<div class="t" style="left:937.9px;top:909.0px"><span class="i">22</span>.1</div>
<div class="t" style="left:1045.2px;top:909.0px"><span class="i">31</span></div>
<div class="t" style="left:1166.6px;top:909.0px"><span class="i">54</span></div>
<div class="t" style="left:1274.0px;top:909.0px"><span class="i">21</span>.2</div>
<div class="t" style="left:1381.0px;top:909.0px"><span class="i">21</span>.7</div>
<div class="t" style="left:1513.4px;top:909.0px"><span class="i">21</span>.2</div>
<div class="t " style="left:57px;top:932.0px;">Pr</div>
<div class="t" style="left:183.3px;top:932.0px"><span class="i">3</span>.3</div>
<div class="t" style="left:291.3px;top:932.0px"><span class="i">2</span>.9</div>
<div class="t" style="left:398.7px;top:932.0px"><span class="i">3</span>.8</div>
<div class="t" style="left:506.5px;top:932.0px"><span class="i">2</span>.5</div>
<div class="t" style="left:614.1px;top:932.0px"><span class="i">2</span>.1</div>
<div class="t" style="left:722.0px;top:932.0px"><span class="i">1</span>.7</div>
<div class="t" style="left:829.8px;top:932.0px"><span class="i">1</span>.5</div>
<div class="t" style="left:937.9px;top:932.0px"><span class="i">2</span>.95</div>
<div class="t" style="left:1045.2px;top:932.0px"><span class="i">3</span>.9</div>
<div class="t" style="left:1166.6px;top:932.0px"><span class="i">6</span>.1</div>
<div class="t" style="left:1274.0px;top:932.0px"><span class="i">2</span>.91</div>
<div class="t" style="left:1381.0px;top:932.0px"><span class="i">2</span>.95</div>
<div class="t" style="left:1513.4px;top:932.0px"><span class="i">15</span>.2</div>
<div class="t " style="left:57px;top:955.0px;">Nd</div>
<div class="t" style="left:183.3px;top:955.0px"><span class="i">16</span></div>
<div class="t" style="left:291.3px;top:955.0px"><span class="i">14</span></div>
<div class="t" style="left:398.7px;top:955.0px"><span class="i">17</span></div>
<div class="t" style="left:506.5px;top:955.0px"><span class="i">12</span></div>
<div class="t" style="left:614.1px;top:955.0px"><span class="i">11</span></div>
<div class="t" style="left:722.0px;top:955.0px"><span class="i">9</span>.4</div>
<div class="t" style="left:829.8px;top:955.0px"><span class="i">9</span>.1</div>
<div class="t" style="left:937.9px;top:955.0px"><span class="i">12</span>.9</div>
<div class="t" style="left:1045.2px;top:955.0px"><span class="i">18</span></div>
<div class="t" style="left:1166.6px;top:955.0px"><span class="i">26</span></div>
<div class="t" style="left:1274.0px;top:955.0px"><span class="i">12</span>.6</div>
<div class="t" style="left:1381.0px;top:955.0px"><span class="i">12</span>.9</div>
<div class="t" style="left:1513.4px;top:955.0px"><span class="i">2</span>.83</div>
<div class="t " style="left:57px;top:977.0px;">Sm</div>
<div class="t" style="left:183.3px;top:977.0px"><span class="i">3</span>.9</div>
<div class="t" style="left:291.3px;top:977.0px"><span class="i">3</span>.5</div>
<div class="t" style="left:398.7px;top:977.0px"><span class="i">3</span>.8</div>
<div class="t" style="left:506.5px;top:977.0px"><span class="i">3</span>.0</div>
<div class="t" style="left:614.1px;top:977.0px"><span class="i">2</span>.7</div>
<div class="t" style="left:722.0px;top:977.0px"><span class="i">2</span>.4</div>
<div class="t" style="left:829.8px;top:977.0px"><span class="i">2</span>.4</div>
<div class="t" style="left:937.9px;top:977.0px"><span class="i">3</span>.15</div>
<div class="t" style="left:1045.2px;top:977.0px"><span class="i">4</span>.8</div>
<div class="t" style="left:1166.6px;top:977.0px"><span class="i">5</span>.8</div>
<div class="t" style="left:1274.0px;top:977.0px"><span class="i">3</span>.09</div>
<div class="t" style="left:1381.0px;top:977.0px"><span class="i">3</span>.18</div>
<div class="t" style="left:1513.4px;top:977.0px"><span class="i">0</span>.96</div>
<div class="t " style="left:57px;top:999.0px;">Eu</div>
<div class="t" style="left:183.3px;top:999.0px"><span class="i">1</span>.2</div>
<div class="t" style="left:291.3px;top:999.0px"><span class="i">1</span>.1</div>
<div class="t" style="left:398.7px;top:999.0px"><span class="i">0</span>.79</div>
<div class="t" style="left:506.5px;top:999.0px"><span class="i">0</span>.9</div>
<div class="t" style="left:614.1px;top:999.0px"><span class="i">0</span>.94</div>
<div class="t" style="left:722.0px;top:999.0px"><span class="i">0</span>.96</div>
<div class="t" style="left:829.8px;top:999.0px"><span class="i">0</span>.82</div>
<div class="t" style="left:937.9px;top:999.0px"><span class="i">1</span>.13</div>
<div class="t" style="left:1045.2px;top:999.0px"><span class="i">0</span>.75</div>
<div class="t" style="left:1166.6px;top:999.0px"><span class="i">1</span>.3</div>
<div class="t" style="left:1274.0px;top:999.0px"><span class="i">0</span>.90</div>
<div class="t" style="left:1381.0px;top:999.0px"><span class="i">0</span>.94</div>
<div class="t" style="left:1513.4px;top:999.0px"><span class="i">2</span>.5</div>
<div class="t " style="left:57px;top:1023.0px;">Gd</div>
<div class="t" style="left:183.3px;top:1023.0px"><span class="i">4</span>.1</div>
<div class="t" style="left:291.3px;top:1023.0px"><span class="i">3</span>.7</div>
<div class="t" style="left:398.7px;top:1023.0px"><span class="i">3</span>.6</div>
<div class="t" style="left:506.5px;top:1023.0px"><span class="i">3</span>.2</div>
<div class="t" style="left:614.1px;top:1023.0px"><span class="i">3</span>.1</div>
<div class="t" style="left:722.0px;top:1023.0px"><span class="i">2</span>.7</div>
<div class="t" style="left:829.8px;top:1023.0px"><span class="i">2</span>.7</div>
<div class="t" style="left:937.9px;top:1023.0px"><span class="i">3</span>.48</div>
<div class="t" style="left:1045.2px;top:1023.0px"><span class="i">5</span>.7</div>
<div class="t" style="left:1166.6px;top:1023.0px"><span class="i">5</span>.8</div>
<div class="t" style="left:1274.0px;top:1023.0px"><span class="i">3</span>.41</div>
<div class="t" style="left:1381.0px;top:1023.0px"><span class="i">3</span>.62</div>
<div class="t" style="left:1513.4px;top:1023.0px"><span class="i">1</span>.43</div>
<div class="t " style="left:57px;top:1045.0px;">Tb</div>
<div class="t" style="left:183.3px;top:1045.0px"><span class="i">0</span>.75</div>
<div class="t" style="left:291.3px;top:1045.0px"><span class="i">0</span>.69</div>
<div class="t" style="left:398.7px;top:1045.0px"><span class="i">0</span>.61</div>
<div class="t" style="left:506.5px;top:1045.0px"><span class="i">0</span>.59</div>
<div class="t" style="left:614.1px;top:1045.0px"><span class="i">0</span>.58</div>
<div class="t" style="left:722.0px;top:1045.0px"><span class="i">0</span>.56</div>
<div class="t" style="left:829.8px;top:1045.0px"><span class="i">0</span>.49</div>
<div class="t" style="left:937.9px;top:1045.0px"><span class="i">0</span>.52</div>
<div class="t" style="left:1045.2px;top:1045.0px"><span class="i">1</span>.24</div>
<div class="t" style="left:1166.6px;top:1045.0px"><span class="i">1</span>.1</div>
<div class="t" style="left:1274.0px;top:1045.0px"><span class="i">0</span>.53</div>
<div class="t" style="left:1381.0px;top:1045.0px"><span class="i">0</span>.56</div>
<div class="t" style="left:1513.4px;top:1046.6px">-</div>
<div class="t " style="left:57px;top:1068.0px;">Dy</div>
<div class="t" style="left:183.3px;top:1068.0px"><span class="i">4</span>.0</div>
<div class="t" style="left:291.3px;top:1068.0px"><span class="i">3</span>.7</div>
<div class="t" style="left:398.7px;top:1068.0px"><span class="i">3</span>.8</div>
<div class="t" style="left:506.5px;top:1068.0px"><span class="i">3</span>.3</div>
<div class="t" style="left:614.1px;top:1068.0px"><span class="i">3</span>.2</div>
<div class="t" style="left:722.0px;top:1068.0px"><span class="i">2</span>.8</div>
<div class="t" style="left:829.8px;top:1068.0px"><span class="i">2</span>.8</div>
<div class="t" style="left:937.9px;top:1068.0px"><span class="i">3</span>.27</div>
<div class="t" style="left:1045.2px;top:1068.0px"><span class="i">7</span>.8</div>
<div class="t" style="left:1166.6px;top:1068.0px"><span class="i">6</span>.2</div>
<div class="t" style="left:1274.0px;top:1068.0px"><span class="i">3</span>.33</div>
<div class="t" style="left:1381.0px;top:1068.0px"><span class="i">3</span>.3</div>
<div class="t" style="left:1513.4px;top:1069.6px">-</div>
<div class="t " style="left:57px;top:1091.0px;">Ho</div>
<div class="t" style="left:183.3px;top:1091.0px"><span class="i">0</span>.79</div>
<div class="t" style="left:291.3px;top:1091.0px"><span class="i">0</span>.75</div>
<div class="t" style="left:398.7px;top:1091.0px"><span class="i">0</span>.78</div>
<div class="t" style="left:506.5px;top:1091.0px"><span class="i">0</span>.65</div>
<div class="t" style="left:614.1px;top:1091.0px"><span class="i">0</span>.65</div>
<div class="t" style="left:722.0px;top:1091.0px"><span class="i">0</span>.59</div>
<div class="t" style="left:829.8px;top:1091.0px"><span class="i">0</span>.56</div>
<div class="t" style="left:937.9px;top:1091.0px"><span class="i">0</span>.69</div>
<div class="t" style="left:1045.2px;top:1091.0px"><span class="i">2</span>.0</div>
<div class="t" style="left:1166.6px;top:1091.0px"><span class="i">1</span>.3</div>
<div class="t" style="left:1274.0px;top:1091.0px"><span class="i">0</span>.72</div>
<div class="t" style="left:1381.0px;top:1091.0px"><span class="i">0</span>.74</div>
<div class="t" style="left:1513.4px;top:1091.0px"><span class="i">0</span>.59</div>
<div class="t " style="left:57px;top:1113.0px;">Er</div>
<div class="t" style="left:183.3px;top:1113.0px"><span class="i">2</span>.4</div>
<div class="t" style="left:291.3px;top:1113.0px"><span class="i">2</span>.2</div>
<div class="t" style="left:398.7px;top:1113.0px"><span class="i">2</span>.4</div>
<div class="t" style="left:506.5px;top:1113.0px"><span class="i">2</span>.0</div>
<div class="t" style="left:614.1px;top:1113.0px"><span class="i">2</span>.0</div>
<div class="t" style="left:722.0px;top:1113.0px"><span class="i">1</span>.7</div>
<div class="t" style="left:829.8px;top:1113.0px"><span class="i">1</span>.7</div>
<div class="t" style="left:937.9px;top:1113.0px"><span class="i">1</span>.89</div>
<div class="t" style="left:1045.2px;top:1113.0px"><span class="i">5</span>.6</div>
<div class="t" style="left:1166.6px;top:1113.0px"><span class="i">4</span>.0</div>
<div class="t" style="left:1274.0px;top:1113.0px"><span class="i">1</span>.95</div>
<div class="t" style="left:1381.0px;top:1113.0px"><span class="i">1</span>.97</div>
<div class="t" style="left:1513.4px;top:1114.6px">-</div>
<div class="t " style="left:57px;top:1136.0px;">Tm</div>
<div class="t" style="left:183.3px;top:1136.0px"><span class="i">0</span>.50</div>
<div class="t" style="left:291.3px;top:1136.0px"><span class="i">0</span>.50</div>
<div class="t" style="left:398.7px;top:1136.0px"><span class="i">0</span>.50</div>
<div class="t" style="left:506.5px;top:1136.0px"><span class="i">0</span>.50</div>
<div class="t" style="left:614.1px;top:1136.0px"><span class="i">0</span>.50</div>
<div class="t" style="left:722.0px;top:1136.0px"><span class="i">0</span>.50</div>
<div class="t" style="left:829.8px;top:1136.0px"><span class="i">0</span>.50</div>
<div class="t" style="left:937.9px;top:1136.0px"><span class="i">0</span>.28</div>
<div class="t" style="left:1045.2px;top:1136.0px"><span class="i">0</span>.87</div>
<div class="t" style="left:1166.6px;top:1136.0px"><span class="i">0</span>.62</div>
<div class="t" style="left:1274.0px;top:1136.0px"><span class="i">0</span>.30</div>
<div class="t" style="left:1381.0px;top:1136.0px"><span class="i">0</span>.3</div>
<div class="t" style="left:1513.4px;top:1137.6px">-</div>
<div class="t " style="left:57px;top:1159.0px;">Yb</div>
<div class="t" style="left:183.3px;top:1159.0px"><span class="i">2</span>.3</div>
<div class="t" style="left:291.3px;top:1159.0px"><span class="i">2</span>.1</div>
<div class="t" style="left:398.7px;top:1159.0px"><span class="i">2</span>.5</div>
<div class="t" style="left:506.5px;top:1159.0px"><span class="i">1</span>.9</div>
<div class="t" style="left:614.1px;top:1159.0px"><span class="i">1</span>.9</div>
<div class="t" style="left:722.0px;top:1159.0px"><span class="i">1</span>.7</div>
<div class="t" style="left:829.8px;top:1159.0px"><span class="i">1</span>.6</div>
<div class="t" style="left:937.9px;top:1159.0px"><span class="i">1</span>.8</div>
<div class="t" style="left:1045.2px;top:1159.0px"><span class="i">5</span>.4</div>
<div class="t" style="left:1166.6px;top:1159.0px"><span class="i">4</span>.0</div>
<div class="t" style="left:1274.0px;top:1159.0px"><span class="i">1</span>.92</div>
<div class="t" style="left:1381.0px;top:1159.0px"><span class="i">1</span>.88</div>
<div class="t" style="left:1513.4px;top:1160.6px">-</div>
<div class="t " style="left:57px;top:1181.0px;">Lu</div>
<div class="t" style="left:183.3px;top:1181.0px"><span class="i">0</span>.50</div>
<div class="t" style="left:291.3px;top:1181.0px"><span class="i">0</span>.50</div>
<div class="t" style="left:398.7px;top:1181.0px"><span class="i">0</span>.50</div>
<div class="t" style="left:506.5px;top:1181.0px"><span class="i">0</span>.50</div>
<div class="t" style="left:614.1px;top:1181.0px"><span class="i">0</span>.50</div>
<div class="t" style="left:722.0px;top:1181.0px"><span class="i">0</span>.50</div>
<div class="t" style="left:829.8px;top:1181.0px"><span class="i">0</span>.50</div>
<div class="t" style="left:937.9px;top:1181.0px"><span class="i">0</span>.27</div>
<div class="t" style="left:1045.2px;top:1181.0px"><span class="i">0</span>.76</div>
<div class="t" style="left:1166.6px;top:1181.0px"><span class="i">0</span>.61</div>
<div class="t" style="left:1274.0px;top:1181.0px"><span class="i">0</span>.28</div>
<div class="t" style="left:1381.0px;top:1181.0px"><span class="i">0</span>.28</div>
<div class="t" style="left:1513.4px;top:1181.0px"><span class="i">0</span>.265</div>
<div class="t" style="left:33.5px;top:1216.5px;font-size:13px">*</div>
<div class="t" style="left:45px;top:1218.5px">Sample/or element analyzed in the Instituto de Geociências, Universidade de São Paulo.</div>
<div class="t" style="left:33.5px;top:1240.3px">-</div>
<div class="t" style="left:45px;top:1239.3px">No data.</div>
</body></html>
